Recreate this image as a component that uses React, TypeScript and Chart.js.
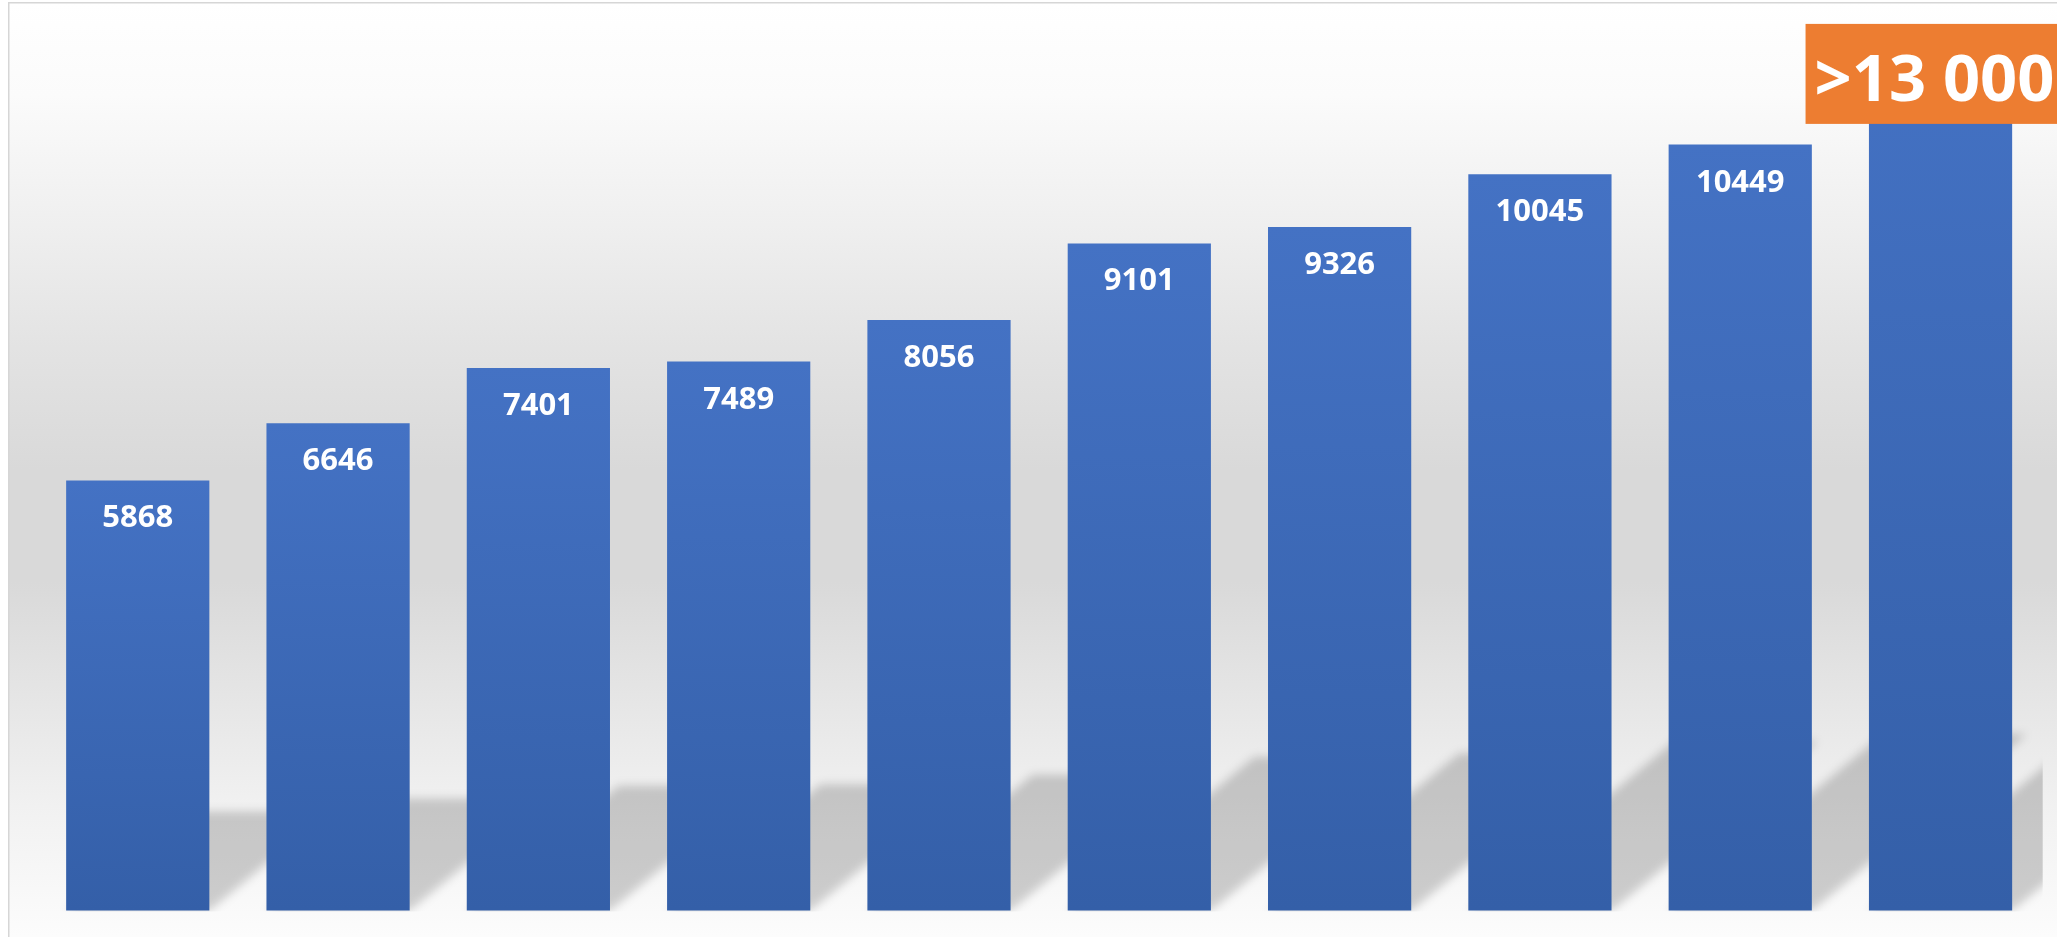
import React, { useEffect, useRef } from "react";
import { Chart, registerables } from "chart.js";

Chart.register(...registerables);

// ---- data ----
const CATEGORIES = ["1", "2", "3", "4", "5", "6", "7", "8", "9", "10"];
const VALUES = [5868, 6646, 7401, 7489, 8056, 9101, 9326, 10045, 10449, 13000];
const VALUE_LABELS = ["5868", "6646", "7401", "7489", "8056", "9101", "9326", "10045", "10449", ">13 000"];
const HIGHLIGHT_INDEX = 9;
const Y_MAX = 12000;

const W = 2100;
const H = 940;

const bgPlugin = {
  id: "bgPlugin",
  beforeDraw(chart: any) {
    const { ctx, width, height } = chart;
    ctx.save();
    const g = ctx.createLinearGradient(0, 0, 0, 935);
    g.addColorStop(0, "#ffffff");
    g.addColorStop(0.1, "#fbfbfb");
    g.addColorStop(0.25, "#eeeeee");
    g.addColorStop(0.37, "#e3e3e3");
    g.addColorStop(0.5, "#d9d9d9");
    g.addColorStop(0.62, "#d9d9d9");
    g.addColorStop(0.75, "#e6e6e6");
    g.addColorStop(0.86, "#f1f1f1");
    g.addColorStop(1, "#fcfcfc");
    ctx.fillStyle = g;
    ctx.fillRect(0, 0, width, height);
    ctx.fillStyle = "#d6d6d6";
    ctx.fillRect(0, 0, width, 1.5);
    ctx.fillRect(0, 0, 1.5, height);
    ctx.restore();
  },
};

const shadowPlugin = {
  id: "shadowPlugin",
  beforeDatasetsDraw(chart: any) {
    const { ctx, chartArea } = chart;
    const meta = chart.getDatasetMeta(0);
    const a = 0.28;
    const b = 0.23;
    let base = chartArea.bottom;
    meta.data.forEach((bar: any) => {
      base = bar.getProps(["base"], true).base;
    });
    ctx.save();
    ctx.beginPath();
    ctx.rect(chartArea.left, 0, chartArea.right + 2 - chartArea.left, base + 1);
    ctx.clip();
    ctx.filter = "blur(5px)";
    ctx.fillStyle = "rgba(0,0,0,0.18)";
    ctx.beginPath();
    meta.data.forEach((bar: any) => {
      const p = bar.getProps(["x", "y", "base", "width"], true);
      const top = Math.max(p.y, chartArea.top);
      const h = p.base - top;
      const l = p.x - p.width / 2;
      const r = p.x + p.width / 2;
      ctx.moveTo(l, p.base);
      ctx.lineTo(r, p.base);
      ctx.lineTo(r + a * h, p.base - b * h);
      ctx.lineTo(l + a * h, p.base - b * h);
      ctx.closePath();
    });
    ctx.fill();
    ctx.restore();
  },
};

const labelPlugin = {
  id: "labelPlugin",
  afterDatasetsDraw(chart: any) {
    const { ctx, chartArea } = chart;
    const meta = chart.getDatasetMeta(0);
    ctx.save();
    meta.data.forEach((bar: any, i: number) => {
      const p = bar.getProps(["x", "y"], true);
      const top = Math.max(p.y, chartArea.top);
      const text = VALUE_LABELS[i];
      if (i === HIGHLIGHT_INDEX) {
        ctx.font = "bold 65px 'Open Sans'";
        const bx = p.x - 135;
        const by = chartArea.top - 7;
        ctx.fillStyle = "#ED7D31";
        ctx.fillRect(bx, by, 290, 100);
        ctx.fillStyle = "#ffffff";
        ctx.textAlign = "left";
        ctx.textBaseline = "alphabetic";
        ctx.fillText(text, bx + 9, by + 77);
      } else {
        ctx.font = "bold 31px 'Open Sans'";
        ctx.fillStyle = "#ffffff";
        ctx.textAlign = "center";
        ctx.textBaseline = "alphabetic";
        ctx.fillText(text, p.x, top + 47);
      }
    });
    ctx.restore();
  },
};

export default function App() {
  const canvasRef = useRef<HTMLCanvasElement | null>(null);

  useEffect(() => {
    if (!canvasRef.current) return;
    const chart = new Chart(canvasRef.current, {
      type: "bar",
      data: {
        labels: CATEGORIES,
        datasets: [
          {
            data: VALUES,
            backgroundColor: (c: any) => {
              const ch = c.chart;
              const area = ch.chartArea;
              if (!area || c.type !== "data") return "#4472C4";
              const ys = ch.scales.y;
              const v = Math.min(c.raw as number, ys.max);
              const top = ys.getPixelForValue(v);
              const bottom = ys.getPixelForValue(0);
              const g = ch.ctx.createLinearGradient(0, top, 0, bottom);
              g.addColorStop(0, "#4472C4");
              g.addColorStop(1, "#345FA8");
              return g;
            },
            borderWidth: 0,
            categoryPercentage: 1,
            barPercentage: 0.715,
            clip: { left: false, right: false, top: 0, bottom: false } as any,
          },
        ],
      },
      options: {
        animation: false,
        responsive: false,
        devicePixelRatio: 1,
        layout: { padding: { left: 29.6, right: 67.3, top: 28.9, bottom: 31.5 } },
        plugins: {
          legend: { display: false },
          tooltip: { enabled: false },
          title: { display: false },
        },
        scales: {
          x: { display: false, grid: { display: false } },
          y: { display: false, min: 0, max: Y_MAX, grid: { display: false } },
        },
      },
      plugins: [bgPlugin, shadowPlugin, labelPlugin],
    });
    return () => chart.destroy();
  }, []);

  return (
    <div style={{ position: "fixed", left: 0, top: 0, width: "100vw", height: "100vh", overflow: "hidden", background: "#ffffff" }}>
      <canvas
        ref={canvasRef}
        width={W}
        height={H}
        style={{ position: "absolute", left: 8, top: 2, width: W, height: H, display: "block" }}
      />
    </div>
  );
}
